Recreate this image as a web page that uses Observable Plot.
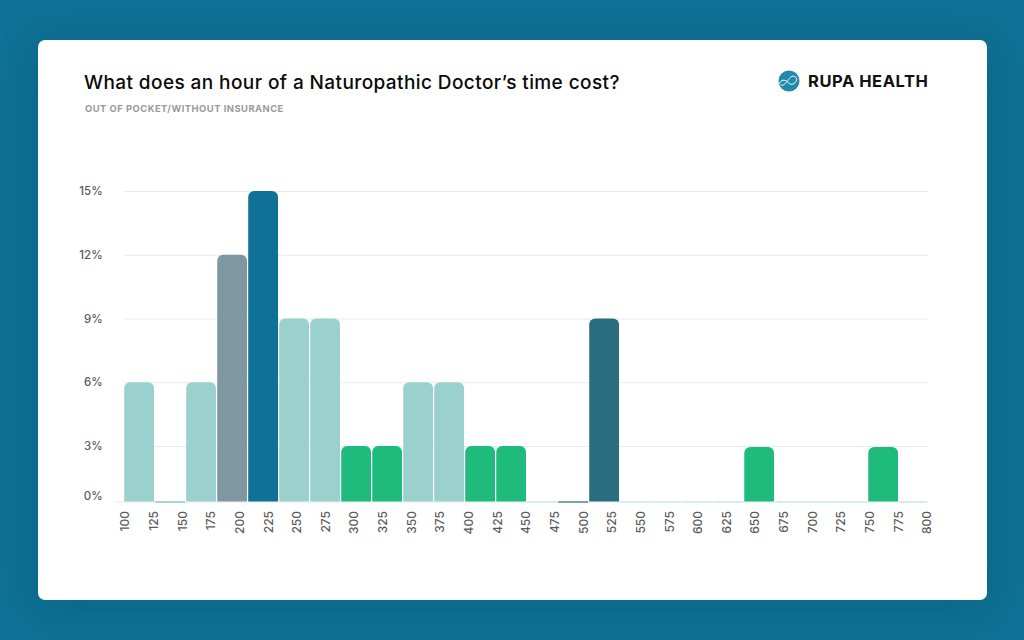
<!DOCTYPE html>
<html><head><meta charset="utf-8">
<script src="https://cdn.jsdelivr.net/npm/d3@7"></script>
<script src="https://cdn.jsdelivr.net/npm/@observablehq/plot@0.6"></script>
<style>
html,body{margin:0;padding:0;width:1024px;height:640px;overflow:hidden;background:#0f7195;font-family:Inter,"Noto Sans",sans-serif}
#card{position:absolute;left:38px;top:40px;width:949px;height:560px;background:#fff;border-radius:7px;box-shadow:0 6px 40px rgba(10,50,70,.22)}
#title{position:absolute;left:84px;top:71px;font-size:19px;font-weight:500;color:#0a0a0a;white-space:nowrap;line-height:24px;letter-spacing:.41px}
#subtitle{position:absolute;left:85px;top:103px;font-size:9.4px;font-weight:700;color:#9a9a9a;white-space:nowrap;line-height:12px;letter-spacing:.49px}
#brand{position:absolute;left:808px;top:70px;font-size:16.5px;font-weight:700;color:#111;white-space:nowrap;line-height:23px;letter-spacing:.55px}
#logo{position:absolute;left:778px;top:70px}
#chart{position:absolute;left:0;top:0}
#chart svg{background:transparent}
</style></head><body>
<div id="card"></div>
<div id="title">What does an hour of a Naturopathic Doctor’s time cost?</div>
<div id="subtitle">OUT OF POCKET/WITHOUT INSURANCE</div>
<svg id="logo" width="22" height="22" viewBox="0 0 22 22"><circle cx="11" cy="11" r="10.5" fill="#2389ab"/><path d="M1.500 13.500C3 9.500 7 9.500 9 11.500S13 15.500 16 13.500 20 8 16.500 6.500 11 9 9 11.500 5 16.500 2.500 14.500" fill="none" stroke="#fff" stroke-width="1"/></svg>
<div id="brand">RUPA HEALTH</div>
<div id="chart"></div>
<script>
const shares = [6,0,6,12,15,9,9,3,3,6,6,3,3,0,0,9,0,0,0,0,2.95,0,0,0,2.95,0];
const fills = ["#9ad0cd","#7db8dc","#9ad0cd","#7f97a3","#0f7195","#9ad0cd","#9ad0cd","#1fbb7c","#1fbb7c","#9ad0cd","#9ad0cd","#1fbb7c","#1fbb7c","#bfe8ee","#2a6d7e","#2a6d7e","#bfe8ee","#bfe8ee","#bfe8ee","#bfe8ee","#1fbb7c","#bfe8ee","#bfe8ee","#bfe8ee","#1fbb7c","#bfe8ee"];
const priceTicks = [100,125,150,175,200,225,250,275,300,325,350,375,400,425,450,475,500,525,550,575,600,625,650,675,700,725,750,775,800];
const shareTicks = [3,6,9,12,15];
const binOrigin = 99.3, binWidth = 27.06;
const bins = shares.map((v,i)=>({v, fill:fills[i], x1:binOrigin+i*binWidth, x2:Math.min(binOrigin+(i+1)*binWidth,800.8)}));
const filled = bins.filter(d=>d.v>0), empty = bins.filter(d=>d.v===0);
const inkFont = {fontFamily:"Inter,'Noto Sans',sans-serif"};
const tickText = {fontSize:11.5,fontWeight:500,fill:"#5a5a5a"};
const plot = Plot.plot({
  width:1024,height:640,marginTop:0,marginRight:0,marginBottom:0,marginLeft:0,
  style:{background:"transparent",overflow:"visible",...inkFont},
  x:{type:"linear",domain:[100,800],range:[125,927],axis:null,label:null},
  y:{type:"linear",domain:[0,3,15],range:[501.5,446,191],axis:null,label:null},
  marks:[
    Plot.ruleY(shareTicks,{x1:99,x2:800.8,stroke:"#e9e9e9",strokeWidth:1}),
    Plot.ruleY([0],{x1:93,x2:800.8,stroke:"#e6e9ea",strokeWidth:1.2}),
    Plot.rect(filled,{x1:"x1",x2:"x2",y1:0,y2:"v",fill:d=>d.fill,insetRight:1.2,ry2:6}),
    Plot.ruleY(empty,{y:0,x1:d=>d.x1,x2:d=>d.x2-1,stroke:d=>d.fill,strokeWidth:1.2}),
    Plot.text(priceTicks,{x:d=>d,y:0,text:d=>String(d),rotate:-90,textAnchor:"end",dy:9,...tickText,letterSpacing:".7px",fontSize:12}),
    Plot.text(shareTicks,{y:d=>d,x:()=>80,text:d=>d+"%",textAnchor:"end",...tickText}),
    Plot.text([0],{y:d=>d,x:()=>80,text:d=>d+"%",textAnchor:"end",dy:-6,...tickText})
  ]
});
document.getElementById("chart").appendChild(plot);
</script>
</body></html>
